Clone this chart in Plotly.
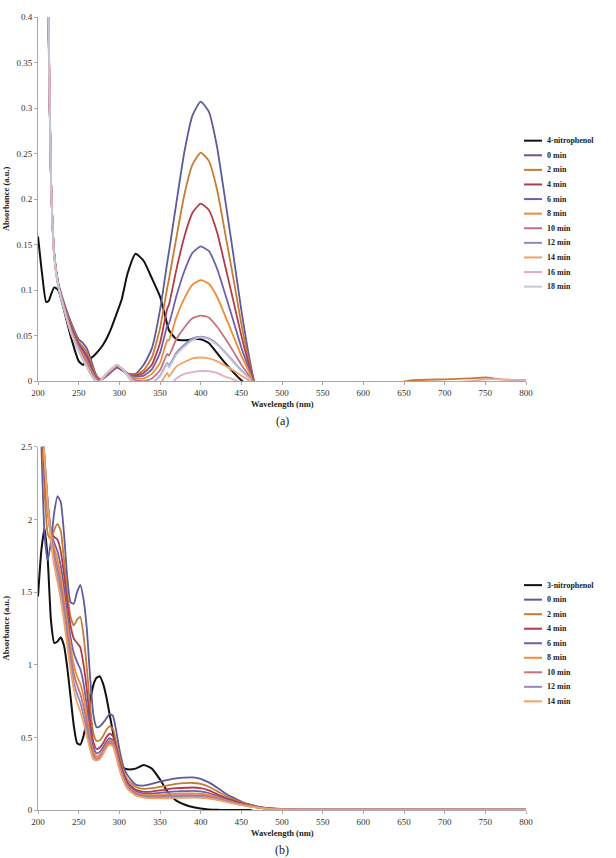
import plotly.graph_objects as go

# ---------------- Panel (a): 4-nitrophenol reduction ----------------
wl_a = [200, 205, 210, 213, 216, 220, 225, 230, 240, 250, 255, 260, 265, 270, 275, 280, 285, 290,
        297, 303, 310, 320, 330, 340, 350, 359, 361, 370, 380, 390, 400, 410, 420, 430, 440, 450,
        460, 470, 480, 550, 640, 660, 700, 730, 750, 770, 800]

a_4np = [0.159, 0.118, 0.087, 0.088, 0.095, 0.103, 0.100, 0.085, 0.050, 0.022, 0.018, 0.021, 0.025, 0.029,
         0.034, 0.040, 0.048, 0.058, 0.075, 0.090, 0.118, 0.140, 0.132, 0.113, 0.093, 0.062, 0.056, 0.046,
         0.045, 0.046, 0.046, 0.042, 0.031, 0.020, 0.010, 0.001, -0.006, -0.010, -0.010, -0.010, -0.010,
         -0.010, -0.010, -0.010, -0.010, -0.010, -0.010]
a_0 = [1.5, 1.2, 0.75, 0.38, 0.22, 0.14, 0.108, 0.092, 0.066, 0.046, 0.042, 0.036, 0.024, 0.010, 0.003,
       0.003, 0.006, 0.010, 0.015, 0.012, 0.008, 0.008, 0.018, 0.036, 0.078, 0.131, 0.142, 0.195, 0.252,
       0.292, 0.307, 0.296, 0.258, 0.200, 0.140, 0.078, 0.025, -0.012, -0.010, -0.010, -0.010, -0.010,
       -0.010, -0.010, -0.010, -0.010, -0.010]
a_2 = [1.5, 1.2, 0.76, 0.39, 0.22, 0.14, 0.107, 0.090, 0.064, 0.043, 0.038, 0.032, 0.020, 0.008, 0.002,
       0.003, 0.007, 0.011, 0.016, 0.013, 0.009, 0.007, 0.012, 0.026, 0.058, 0.103, 0.112, 0.157, 0.205,
       0.238, 0.251, 0.242, 0.211, 0.163, 0.114, 0.063, 0.020, -0.012, -0.010, -0.010, -0.002, 0.001,
       0.002, 0.003, 0.004, 0.002, 0.001]
a_4 = [1.5, 1.2, 0.76, 0.39, 0.22, 0.139, 0.106, 0.089, 0.062, 0.041, 0.035, 0.028, 0.017, 0.006, 0.001,
       0.003, 0.007, 0.011, 0.016, 0.013, 0.008, 0.006, 0.009, 0.018, 0.042, 0.080, 0.084, 0.122, 0.159,
       0.185, 0.195, 0.188, 0.164, 0.127, 0.089, 0.050, 0.016, -0.012, -0.010, -0.010, -0.010, -0.010,
       -0.010, -0.010, -0.010, -0.010, -0.010]
a_6 = [1.5, 1.2, 0.77, 0.39, 0.22, 0.139, 0.106, 0.089, 0.060, 0.039, 0.032, 0.025, 0.014, 0.005, 0.001,
       0.003, 0.007, 0.012, 0.017, 0.013, 0.008, 0.005, 0.006, 0.013, 0.031, 0.061, 0.063, 0.093, 0.121,
       0.141, 0.148, 0.143, 0.124, 0.096, 0.067, 0.037, 0.012, -0.012, -0.010, -0.010, -0.010, -0.010,
       -0.010, -0.010, -0.010, -0.010, -0.010]
a_8 = [1.5, 1.2, 0.77, 0.40, 0.22, 0.138, 0.105, 0.088, 0.058, 0.037, 0.030, 0.022, 0.012, 0.004, 0.000,
       0.003, 0.008, 0.012, 0.017, 0.014, 0.008, 0.003, 0.003, 0.008, 0.020, 0.045, 0.045, 0.070, 0.091,
       0.106, 0.111, 0.107, 0.093, 0.072, 0.050, 0.028, 0.009, -0.012, -0.010, -0.010, -0.010, -0.010,
       -0.010, -0.010, -0.010, -0.010, -0.010]
a_10 = [1.5, 1.2, 0.77, 0.40, 0.22, 0.138, 0.105, 0.088, 0.057, 0.036, 0.028, 0.020, 0.010, 0.003, 0.000,
        0.003, 0.008, 0.012, 0.017, 0.014, 0.008, 0.001, 0.000, 0.003, 0.012, 0.030, 0.028, 0.046, 0.059,
        0.069, 0.072, 0.070, 0.060, 0.047, 0.033, 0.018, 0.005, -0.012, -0.010, -0.010, -0.010, -0.010,
        -0.010, -0.010, -0.010, -0.010, -0.010]
a_12 = [1.5, 1.2, 0.78, 0.40, 0.22, 0.137, 0.104, 0.087, 0.056, 0.035, 0.026, 0.018, 0.009, 0.002, 0.000,
        0.004, 0.009, 0.013, 0.018, 0.014, 0.008, -0.002, -0.004, -0.002, 0.006, 0.020, 0.017, 0.031, 0.040,
        0.047, 0.049, 0.047, 0.041, 0.032, 0.022, 0.012, 0.003, -0.012, -0.010, -0.010, -0.010, -0.010,
        -0.010, -0.010, -0.010, -0.010, -0.010]
a_14 = [1.5, 1.2, 0.78, 0.40, 0.22, 0.137, 0.104, 0.087, 0.055, 0.034, 0.025, 0.017, 0.008, 0.002, -0.001,
        0.004, 0.009, 0.013, 0.018, 0.014, 0.007, -0.004, -0.008, -0.008, -0.003, 0.009, 0.005, 0.016, 0.021,
        0.025, 0.026, 0.025, 0.022, 0.017, 0.012, 0.006, 0.000, -0.012, -0.010, -0.010, -0.010, -0.010,
        -0.010, -0.010, -0.010, -0.010, -0.010]
a_16 = [1.5, 1.2, 0.78, 0.40, 0.22, 0.137, 0.104, 0.086, 0.055, 0.033, 0.024, 0.016, 0.007, 0.001, -0.001,
        0.004, 0.009, 0.013, 0.018, 0.014, 0.006, -0.006, -0.012, -0.014, -0.010, -0.002, -0.005, 0.003,
        0.008, 0.010, 0.011, 0.011, 0.009, 0.005, 0.002, -0.002, -0.006, -0.012, -0.010, -0.010, -0.010,
        -0.005, -0.002, 0.000, 0.002, 0.002, 0.001]
a_18 = [1.5, 1.2, 0.78, 0.40, 0.22, 0.137, 0.104, 0.086, 0.054, 0.033, 0.024, 0.016, 0.007, 0.001, -0.001,
        0.004, 0.009, 0.013, 0.018, 0.014, 0.007, -0.002, -0.004, -0.002, 0.005, 0.019, 0.015, 0.029, 0.038,
        0.045, 0.048, 0.046, 0.040, 0.031, 0.021, 0.011, 0.003, -0.012, -0.010, -0.010, -0.010, -0.010,
        -0.010, -0.010, -0.010, -0.010, -0.010]

names_a = ["4-nitrophenol", "0 min", "2 min", "4 min", "6 min", "8 min", "10 min",
           "12 min", "14 min", "16 min", "18 min"]
series_a = [a_4np, a_0, a_2, a_4, a_6, a_8, a_10, a_12, a_14, a_16, a_18]

# ---------------- Panel (b): 3-nitrophenol reduction ----------------
wl_b = [200, 204, 208, 212, 216, 220, 224, 228, 232, 236, 240, 244, 248, 252, 256, 260, 264, 268, 272,
        276, 280, 284, 288, 292, 296, 300, 305, 310, 320, 330, 340, 350, 360, 370, 380, 390, 400, 410,
        420, 430, 440, 450, 460, 480, 500, 520, 550, 600, 700, 800]

b_3np = [1.47, 1.78, 1.94, 1.72, 1.30, 1.15, 1.16, 1.19, 1.13, 0.98, 0.78, 0.58, 0.46, 0.45, 0.51, 0.62,
         0.75, 0.86, 0.91, 0.92, 0.87, 0.78, 0.66, 0.54, 0.42, 0.34, 0.29, 0.28, 0.285, 0.31, 0.285, 0.21,
         0.12, 0.065, 0.038, 0.020, 0.010, 0.004, 0.001, 0.0, 0.0, 0.0, 0.0, -0.03, -0.03, -0.03, -0.03,
         -0.03, -0.03, -0.03]
b_0 = [3.3, 2.55, 1.90, 1.72, 1.85, 2.05, 2.16, 2.12, 1.90, 1.60, 1.43, 1.42, 1.50, 1.55, 1.45, 1.25,
       0.92, 0.66, 0.57, 0.575, 0.60, 0.63, 0.66, 0.65, 0.55, 0.42, 0.30, 0.24, 0.175, 0.168, 0.18, 0.195,
       0.208, 0.218, 0.223, 0.225, 0.215, 0.19, 0.155, 0.115, 0.085, 0.058, 0.038, 0.015, 0.007, 0.003,
       0.002, 0.002, 0.002, 0.002]
b_2 = [3.1, 2.70, 2.20, 1.90, 1.86, 1.93, 1.97, 1.92, 1.72, 1.50, 1.33, 1.27, 1.31, 1.33, 1.20, 0.98,
       0.72, 0.53, 0.475, 0.48, 0.51, 0.55, 0.575, 0.56, 0.47, 0.37, 0.27, 0.21, 0.16, 0.145, 0.15, 0.16,
       0.17, 0.18, 0.185, 0.186, 0.18, 0.16, 0.13, 0.10, 0.075, 0.052, 0.035, 0.014, 0.006, 0.003, 0.002,
       0.002, 0.002, 0.002]
b_4 = [3.2, 2.75, 2.35, 2.05, 1.90, 1.88, 1.86, 1.78, 1.62, 1.43, 1.27, 1.18, 1.15, 1.12, 1.00, 0.83,
       0.62, 0.47, 0.42, 0.43, 0.46, 0.50, 0.525, 0.51, 0.43, 0.34, 0.25, 0.19, 0.14, 0.125, 0.127, 0.135,
       0.143, 0.15, 0.153, 0.155, 0.15, 0.135, 0.11, 0.085, 0.064, 0.045, 0.031, 0.012, 0.005, 0.003,
       0.002, 0.002, 0.002, 0.002]
b_6 = [3.2, 2.75, 2.40, 2.10, 1.92, 1.84, 1.78, 1.68, 1.53, 1.35, 1.19, 1.08, 1.02, 0.97, 0.87, 0.72,
       0.55, 0.43, 0.39, 0.40, 0.43, 0.47, 0.495, 0.48, 0.41, 0.32, 0.235, 0.175, 0.13, 0.113, 0.113,
       0.118, 0.124, 0.128, 0.13, 0.132, 0.128, 0.117, 0.097, 0.077, 0.058, 0.042, 0.029, 0.011, 0.005,
       0.003, 0.002, 0.002, 0.002, 0.002]
b_8 = [3.2, 2.75, 2.42, 2.12, 1.92, 1.80, 1.72, 1.61, 1.46, 1.29, 1.13, 1.00, 0.92, 0.87, 0.78, 0.65,
       0.50, 0.40, 0.37, 0.38, 0.41, 0.45, 0.48, 0.47, 0.40, 0.31, 0.225, 0.165, 0.12, 0.104, 0.102, 0.105,
       0.109, 0.112, 0.114, 0.115, 0.112, 0.103, 0.088, 0.07, 0.053, 0.039, 0.027, 0.010, 0.004, 0.003,
       0.002, 0.002, 0.002, 0.002]
b_10 = [3.2, 2.75, 2.43, 2.12, 1.90, 1.76, 1.67, 1.55, 1.40, 1.23, 1.07, 0.94, 0.86, 0.80, 0.71, 0.60,
        0.47, 0.38, 0.355, 0.365, 0.40, 0.44, 0.47, 0.46, 0.39, 0.30, 0.218, 0.158, 0.113, 0.097, 0.094,
        0.095, 0.098, 0.10, 0.102, 0.103, 0.10, 0.093, 0.08, 0.065, 0.05, 0.037, 0.026, 0.010, 0.004,
        0.003, 0.002, 0.002, 0.002, 0.002]
b_12 = [3.2, 2.75, 2.43, 2.10, 1.88, 1.72, 1.62, 1.50, 1.35, 1.18, 1.02, 0.88, 0.80, 0.74, 0.65, 0.55,
        0.44, 0.36, 0.345, 0.355, 0.39, 0.43, 0.46, 0.45, 0.38, 0.29, 0.21, 0.152, 0.107, 0.09, 0.087,
        0.087, 0.089, 0.091, 0.092, 0.093, 0.09, 0.085, 0.074, 0.061, 0.047, 0.035, 0.025, 0.010, 0.004,
        0.003, 0.002, 0.002, 0.002, 0.002]
b_14 = [3.2, 2.75, 2.42, 2.08, 1.85, 1.68, 1.57, 1.45, 1.30, 1.13, 0.97, 0.83, 0.74, 0.68, 0.60, 0.51,
        0.42, 0.35, 0.34, 0.35, 0.385, 0.425, 0.45, 0.44, 0.37, 0.28, 0.20, 0.146, 0.10, 0.085, 0.08,
        0.08, 0.081, 0.083, 0.084, 0.085, 0.083, 0.078, 0.069, 0.057, 0.045, 0.034, 0.024, 0.010, 0.004,
        0.003, 0.003, 0.003, 0.003, 0.003]

names_b = ["3-nitrophenol", "0 min", "2 min", "4 min", "6 min", "8 min", "10 min", "12 min", "14 min"]
series_b = [b_3np, b_0, b_2, b_4, b_6, b_8, b_10, b_12, b_14]

colors = ["#111111", "#5b5b9e", "#c77c33", "#b5394a", "#6c5fae", "#ef8c35",
          "#c9707c", "#8c8cbf", "#f3a266", "#e4adb9", "#c5c5da"]

xticks = [200, 250, 300, 350, 400, 450, 500, 550, 600, 650, 700, 750, 800]
yticks_a = [0, 0.05, 0.1, 0.15, 0.2, 0.25, 0.3, 0.35, 0.4]
yticks_b = [0, 0.5, 1, 1.5, 2, 2.5]

# ---------------- Figure ----------------
W, H = 616, 858
L, R, T, B = 38, 90, 13, 48
PW, PH = W - L - R, H - T - B


def px_x(px):
    return (px - L) / PW


def px_y(py):
    return (H - B - py) / PH


SERIF = "Liberation Serif"
fig = go.Figure()

for name, color, ys in zip(names_a, colors, series_a):
    fig.add_trace(go.Scatter(
        x=wl_a, y=ys, mode="lines", name=name, showlegend=False,
        line=dict(color=color, width=2.0 if color == "#111111" else 1.8, shape="spline", smoothing=0.5),
        xaxis="x", yaxis="y"))

for name, color, ys in zip(names_b, colors, series_b):
    fig.add_trace(go.Scatter(
        x=wl_b, y=ys, mode="lines", name=name, showlegend=False,
        line=dict(color=color, width=2.0 if color == "#111111" else 1.8, shape="spline", smoothing=0.5),
        xaxis="x2", yaxis="y2"))

axis_style = dict(showline=True, linecolor="#a8a8a8", linewidth=1, ticks="outside", ticklen=3,
                  tickcolor="#a8a8a8", showgrid=False, zeroline=False,
                  tickfont=dict(family=SERIF, size=9, color="#333333"), fixedrange=True)

fig.update_layout(
    width=W, height=H, margin=dict(l=L, r=R, t=T, b=B),
    paper_bgcolor="white", plot_bgcolor="white", showlegend=False,
    xaxis=dict(domain=[0, 1], anchor="y", range=[200, 800], tickvals=xticks, **axis_style),
    yaxis=dict(domain=[px_y(379), 1], anchor="x", range=[0, 0.4], tickvals=yticks_a, **axis_style),
    xaxis2=dict(domain=[0, 1], anchor="y2", range=[200, 800], tickvals=xticks, **axis_style),
    yaxis2=dict(domain=[0, px_y(445)], anchor="x2", range=[0, 2.5], tickvals=yticks_b, **axis_style),
)

ann = []
shapes = []
title_font = dict(family=SERIF, size=8.5, color="#222222")
for top, bot, lab in [(13, 379, "(a)"), (445, 810, "(b)")]:
    ann.append(dict(x=px_x(6), y=px_y((top + bot) / 2), xref="paper", yref="paper",
                    text="<b>Absorbance (a.u.)</b>", textangle=-90, showarrow=False,
                    font=title_font, xanchor="center", yanchor="middle"))
    ann.append(dict(x=px_x(282), y=px_y(bot + 23), xref="paper", yref="paper",
                    text="<b>Wavelength (nm)</b>", showarrow=False, font=title_font,
                    xanchor="center", yanchor="middle"))
    ann.append(dict(x=px_x(282), y=px_y(bot + 40), xref="paper", yref="paper",
                    text=lab, showarrow=False, font=dict(family=SERIF, size=12, color="#222222"),
                    xanchor="center", yanchor="middle"))

# legends
for names, y0, step in [(names_a, 137.3, 14.67), (names_b, 584.0, 14.6)]:
    for i, name in enumerate(names):
        yy = px_y(y0 + i * step)
        shapes.append(dict(type="line", xref="paper", yref="paper", x0=px_x(524), x1=px_x(542),
                           y0=yy, y1=yy, line=dict(color=colors[i], width=2.0)))
        ann.append(dict(x=px_x(545), y=yy, xref="paper", yref="paper", text="<b>%s</b>" % name,
                        showarrow=False, xanchor="left", yanchor="middle",
                        font=dict(family=SERIF, size=8, color="#222222")))

fig.update_layout(annotations=ann, shapes=shapes)
fig.write_html("out.html")
